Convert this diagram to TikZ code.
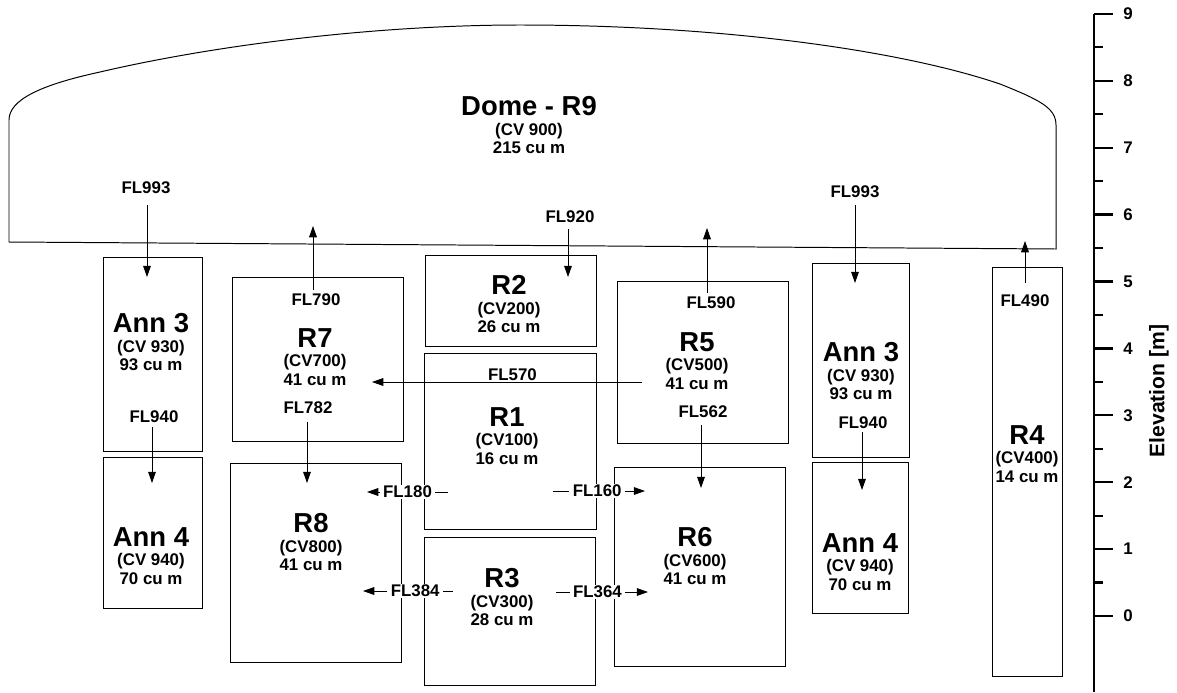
\documentclass[tikz,border=0pt]{standalone}
\usepackage{fontspec}
\setmainfont{Liberation Sans}
\usetikzlibrary{arrows.meta}

\newcommand{\smallfont}{\fontsize{12}{13}\selectfont\bfseries}
\newcommand{\bigfont}{\fontsize{19.5}{20}\selectfont\bfseries}

\begin{document}
\begin{tikzpicture}[x=0.025cm, y=-0.025cm,
    room/.style={line width=0.7pt},
    roomtext/.style={anchor=north, inner sep=0pt, align=center, font=\smallfont},
    flow/.style={line width=0.6pt, -{Triangle[length=8pt, width=5.5pt]}},
    fl/.style={font=\smallfont, inner sep=1pt},
    flmid/.style={font=\smallfont, fill=white, inner xsep=2.5pt, inner ysep=1pt}]
  \useasboundingbox (0,0) rectangle (1177,692);

  % Dome - R9
  \draw[room] (9,242) -- (9,120) .. controls (9,100) and (40,85) .. (100,72)
    .. controls (220,44) and (380,25) .. (520,25)
    .. controls (720,25) and (900,50) .. (1000,84)
    .. controls (1040,100) and (1056,108) .. (1056,125) -- (1056,249) -- cycle;
  \node[roomtext] (dome) at (529,96) {{\bigfont Dome - R9}\\[1pt](CV 900)\\215 cu m};

  % rooms
  \draw[room] (103,257) rectangle (202,451);
  \draw[room] (103,457) rectangle (202,608);
  \draw[room] (232,277) rectangle (403,441);
  \draw[room] (230,463) rectangle (401,662);
  \draw[room] (425,255) rectangle (596,346);
  \draw[room] (424,353) rectangle (596,529);
  \draw[room] (424,537) rectangle (595,685);
  \draw[room] (617,281) rectangle (788,443);
  \draw[room] (614,467) rectangle (785,666);
  \draw[room] (812,263) rectangle (909,457);
  \draw[room] (812,462) rectangle (908,613);
  \draw[room] (992,267) rectangle (1062,676);

  \node[roomtext] (ann3l) at (151,313) {{\bigfont Ann 3}\\[1pt](CV 930)\\93 cu m};
  \node[roomtext] (ann4l) at (151,527) {{\bigfont Ann 4}\\[1pt](CV 940)\\70 cu m};
  \node[roomtext] (r7) at (315,328) {{\bigfont R7}\\[1pt](CV700)\\41 cu m};
  \node[roomtext] (r8) at (311,513) {{\bigfont R8}\\[1pt](CV800)\\41 cu m};
  \node[roomtext] (r2) at (509,275) {{\bigfont R2}\\[1pt](CV200)\\26 cu m};
  \node[roomtext] (r1) at (507,407) {{\bigfont R1}\\[1pt](CV100)\\16 cu m};
  \node[roomtext] (r3) at (502,568) {{\bigfont R3}\\[1pt](CV300)\\28 cu m};
  \node[roomtext] (r5) at (697,332) {{\bigfont R5}\\[1pt](CV500)\\41 cu m};
  \node[roomtext] (r6) at (695,527) {{\bigfont R6}\\[1pt](CV600)\\41 cu m};
  \node[roomtext] (ann3r) at (861,342) {{\bigfont Ann 3}\\[1pt](CV 930)\\93 cu m};
  \node[roomtext] (ann4r) at (860,533) {{\bigfont Ann 4}\\[1pt](CV 940)\\70 cu m};
  \node[roomtext] (r4) at (1027,425) {{\bigfont R4}\\[1pt](CV400)\\14 cu m};

  % vertical flow paths
  \node[fl] (fl993l) at (146,188) {FL993};
  \coordinate (fl993la) at (147,205);
  \coordinate (fl993lb) at (147,277);
  \draw[flow] (fl993la) -- (fl993lb);

  \node[fl] (fl790) at (316,300) {FL790};
  \coordinate (fl790a) at (313,290);
  \coordinate (fl790b) at (313,226);
  \draw[flow] (fl790a) -- (fl790b);

  \node[fl] (fl940l) at (154,417) {FL940};
  \coordinate (fl940la) at (152,427);
  \coordinate (fl940lb) at (152,483);
  \draw[flow] (fl940la) -- (fl940lb);

  \node[fl] (fl782) at (308,408) {FL782};
  \coordinate (fl782a) at (307,422);
  \coordinate (fl782b) at (307,483);
  \draw[flow] (fl782a) -- (fl782b);

  \node[fl] (fl920) at (570,217) {FL920};
  \coordinate (fl920a) at (568,229);
  \coordinate (fl920b) at (568,277);
  \draw[flow] (fl920a) -- (fl920b);

  \node[fl] (fl590) at (711,303) {FL590};
  \coordinate (fl590a) at (707,293);
  \coordinate (fl590b) at (707,228);
  \draw[flow] (fl590a) -- (fl590b);

  \node[fl] (fl562) at (703,412) {FL562};
  \coordinate (fl562a) at (701,425);
  \coordinate (fl562b) at (701,488);
  \draw[flow] (fl562a) -- (fl562b);

  \node[fl] (fl993r) at (855,192) {FL993};
  \coordinate (fl993ra) at (855,205);
  \coordinate (fl993rb) at (855,283);
  \draw[flow] (fl993ra) -- (fl993rb);

  \node[fl] (fl940r) at (863,423) {FL940};
  \coordinate (fl940ra) at (862,432);
  \coordinate (fl940rb) at (862,490);
  \draw[flow] (fl940ra) -- (fl940rb);

  \node[fl] (fl490) at (1025,301) {FL490};
  \coordinate (fl490a) at (1025,283);
  \coordinate (fl490b) at (1025,241);
  \draw[flow] (fl490a) -- (fl490b);

  % horizontal flow paths
  \coordinate (fl570a) at (642,382);
  \coordinate (fl570b) at (372,382);
  \draw[flow] (fl570a) -- node[fl, above, pos=0.48] (fl570) {FL570} (fl570b);

  \coordinate (fl180a) at (448,492);
  \coordinate (fl180b) at (367,492);
  \draw[flow] (fl180a) -- node[flmid, pos=0.5] (fl180) {FL180} (fl180b);

  \coordinate (fl160a) at (553,491);
  \coordinate (fl160b) at (645,491);
  \draw[flow] (fl160a) -- node[flmid, pos=0.48] (fl160) {FL160} (fl160b);

  \coordinate (fl384a) at (453,591);
  \coordinate (fl384b) at (363,591);
  \draw[flow] (fl384a) -- node[flmid, pos=0.42] (fl384) {FL384} (fl384b);

  \coordinate (fl364a) at (556,592);
  \coordinate (fl364b) at (648,592);
  \draw[flow] (fl364a) -- node[flmid, pos=0.45] (fl364) {FL364} (fl364b);

  % elevation scale
  \draw[line width=0.8pt] (1094,14) -- (1094,692);
  \foreach \e in {0,...,9} {
    \draw[line width=1.6pt] (1094,{616-66.9*\e}) -- ++(19,0);
    \node[fl] (tick\e) at (1128,{616-66.9*\e}) {\e};
  }
  \foreach \e in {0,...,8}
    \draw[line width=1.6pt] (1094,{616-66.9*(\e+0.5)}) -- ++(9,0);
  \node[rotate=90, font=\fontsize{15}{16}\selectfont\bfseries] (elev) at (1159,391) {Elevation [m]};
\end{tikzpicture}
\end{document}
